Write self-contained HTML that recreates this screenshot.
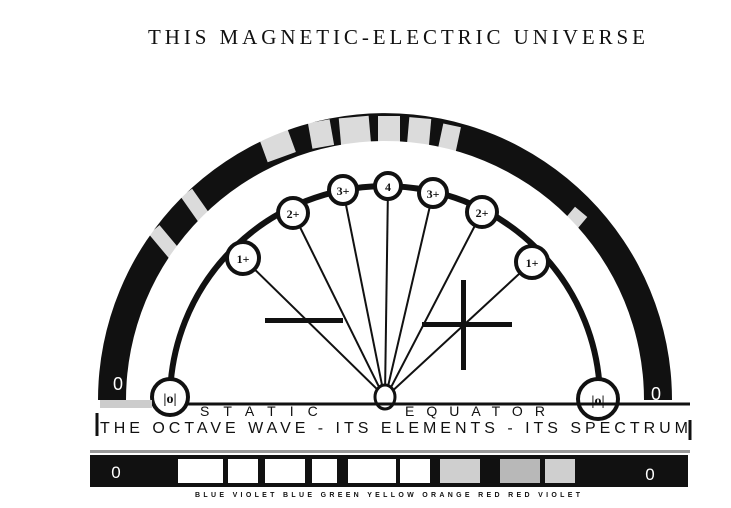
<!DOCTYPE html>
<html><head><style>
body{margin:0;background:#fff;width:731px;height:503px;overflow:hidden;}
</style></head><body>
<svg width="731" height="503" viewBox="0 0 731 503" xmlns="http://www.w3.org/2000/svg" font-family="Liberation Serif, serif">
<text x="148" y="44" font-size="21" textLength="497" lengthAdjust="spacing" fill="#111">THIS MAGNETIC-ELECTRIC UNIVERSE</text>
<!-- outer band -->
<path d="M98,400 A287,287 0 0 1 672,400 L644,400 A259,259 0 0 0 126,400 Z" fill="#111"/>
<g fill="#fff" opacity="0.85">
<rect x="262" y="130" width="30" height="28" transform="rotate(-20 277 144)"/>
<rect x="310" y="121" width="22" height="26" transform="rotate(-10 321 134)"/>
<rect x="340" y="117" width="30" height="30" transform="rotate(-5 355 132)"/>
<rect x="378" y="116" width="22" height="32"/>
<rect x="408" y="118" width="22" height="30" transform="rotate(5 419 133)"/>
<rect x="440" y="125" width="18" height="30" transform="rotate(12 449 140)"/>
<rect x="160" y="225" width="14" height="40" transform="rotate(-40 167 245)"/>
<rect x="188" y="190" width="14" height="30" transform="rotate(-35 195 205)"/>
<rect x="568" y="210" width="16" height="16" transform="rotate(40 576 218)"/>
</g>
<text x="118" y="390" font-size="18" text-anchor="middle" font-family="Liberation Sans, sans-serif" fill="#fff">0</text>
<text x="656" y="400" font-size="18" text-anchor="middle" font-family="Liberation Sans, sans-serif" fill="#fff">0</text>
<!-- inner arc -->
<path d="M170,400 A215,214 0 0 1 600,400" fill="none" stroke="#111" stroke-width="6"/>
<g stroke="#111" stroke-width="2">
<line x1="243" y1="258" x2="383" y2="395"/>
<line x1="293" y1="213" x2="383" y2="395"/>
<line x1="343" y1="190" x2="384" y2="395"/>
<line x1="388" y1="186" x2="385" y2="395"/>
<line x1="433" y1="193" x2="386" y2="395"/>
<line x1="482" y1="212" x2="387" y2="395"/>
<line x1="532" y1="262" x2="388" y2="395"/>
</g>
<ellipse cx="385" cy="397" rx="10" ry="12" fill="#fff" stroke="#111" stroke-width="3"/>
<rect x="265" y="318" width="78" height="5" fill="#111"/>
<rect x="422" y="322" width="90" height="5" fill="#111"/>
<rect x="461" y="280" width="5" height="90" fill="#111"/>
<g fill="#fff" stroke="#111" stroke-width="4">
<circle cx="243" cy="258" r="16"/><circle cx="293" cy="213" r="15"/><circle cx="343" cy="190" r="14"/>
<circle cx="388" cy="186" r="13"/><circle cx="433" cy="193" r="14"/><circle cx="482" cy="212" r="15"/>
<circle cx="532" cy="262" r="16"/>
<circle cx="170" cy="397" r="18"/><circle cx="598" cy="399" r="20"/>
</g>
<g fill="#111" font-size="12" font-weight="bold" text-anchor="middle">
<text x="243" y="263">1+</text><text x="293" y="218">2+</text><text x="343" y="195">3+</text>
<text x="388" y="191">4</text><text x="433" y="198">3+</text><text x="482" y="217">2+</text>
<text x="532" y="267">1+</text><text x="170" y="403" font-size="14">|o|</text><text x="598" y="405" font-size="14">|o|</text>
</g>
<rect x="100" y="400" width="52" height="8" fill="#ccc"/>
<line x1="188" y1="404" x2="690" y2="404" stroke="#111" stroke-width="3"/>
<text x="200" y="416" font-size="14" font-family="Liberation Sans, sans-serif" letter-spacing="14" fill="#111">STATIC</text>
<text x="405" y="416" font-size="14" font-family="Liberation Sans, sans-serif" letter-spacing="12" fill="#111">EQUATOR</text>
<line x1="97" y1="413" x2="97" y2="436" stroke="#111" stroke-width="3"/>
<line x1="690" y1="420" x2="690" y2="440" stroke="#111" stroke-width="3"/>
<text x="100" y="433" font-size="16" font-family="Liberation Sans, sans-serif" fill="#111" textLength="588" lengthAdjust="spacing">THE  OCTAVE  WAVE - ITS ELEMENTS - ITS SPECTRUM</text>
<rect x="90" y="450" width="600" height="3" fill="#999"/>
<rect x="90" y="455" width="598" height="32" fill="#111"/>
<g fill="#fff">
<rect x="178" y="459" width="45" height="24"/><rect x="228" y="459" width="30" height="24"/>
<rect x="265" y="459" width="40" height="24"/><rect x="312" y="459" width="25" height="24"/>
<rect x="348" y="459" width="48" height="24"/><rect x="400" y="459" width="30" height="24"/>
<rect x="440" y="459" width="40" height="24" opacity="0.8"/><rect x="500" y="459" width="40" height="24" opacity="0.7"/>
<rect x="545" y="459" width="30" height="24" opacity="0.8"/>
</g>
<text x="116" y="478" font-size="17" text-anchor="middle" font-family="Liberation Sans, sans-serif" fill="#fff">0</text>
<text x="650" y="480" font-size="17" text-anchor="middle" font-family="Liberation Sans, sans-serif" fill="#fff">0</text>
<text x="195" y="497" font-size="7" font-weight="bold" font-family="Liberation Sans, sans-serif" fill="#111" textLength="385" lengthAdjust="spacing">BLUE VIOLET   BLUE   GREEN   YELLOW   ORANGE   RED   RED VIOLET</text>
</svg>
</body></html>
